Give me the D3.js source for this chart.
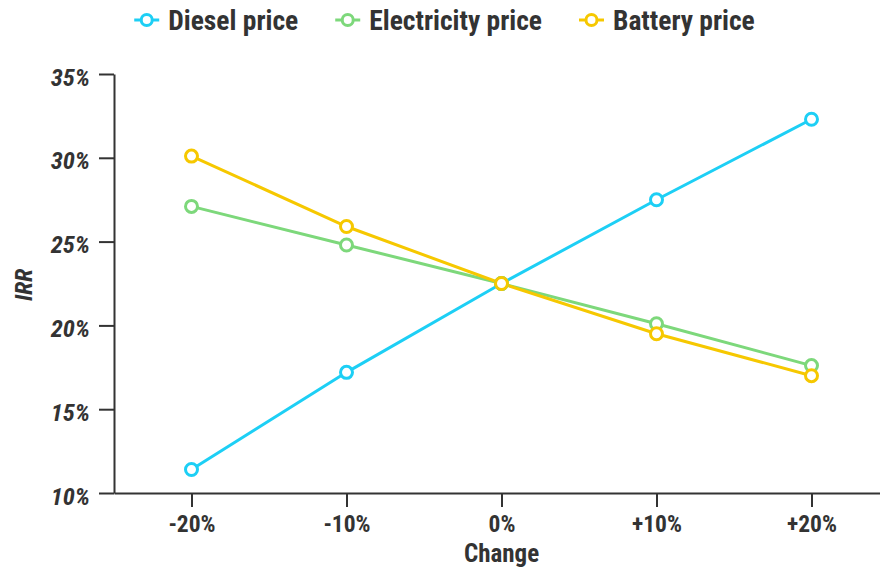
<!DOCTYPE html>
<html>
<head>
<meta charset="utf-8">
<script src="https://cdn.jsdelivr.net/npm/d3@7"></script>
<style>
  body { margin: 0; background: #fff; }
  text { font-family: "Roboto Condensed", "Liberation Sans Narrow", "Roboto", sans-serif; font-weight: 700; fill: #333; }
</style>
</head>
<body>
<div id="chart"></div>
<script>
// chart values
var changes = ["-20%", "-10%", "0%", "+10%", "+20%"];
var seriesNames = ["Diesel price", "Electricity price", "Battery price"];
var seriesColors = ["#1dcff5", "#7dd87b", "#f6c800"];
var diesel = [11.4, 17.2, 22.5, 27.5, 32.3];
var electricity = [27.1, 24.8, 22.5, 20.1, 17.6];
var battery = [30.1, 25.9, 22.5, 19.5, 17.0];
var yTicks = [10, 15, 20, 25, 30, 35];

var margin = {top: 74, right: -9, bottom: 75, left: 114};
var width = 880 - margin.left - margin.right,
    height = 568 - margin.top - margin.bottom;

var svg = d3.select("#chart")
  .append("svg")
  .attr("width", 880)
  .attr("height", 568);

var g = svg.append("g")
  .attr("transform", "translate(" + margin.left + "," + margin.top + ")");

var x = d3.scalePoint()
  .domain(changes)
  .range([0, width])
  .padding(0.5);

var y = d3.scaleLinear()
  .domain([10, 35])
  .range([height, 0]);

// axes
var xAxis = g.append("g")
  .attr("transform", "translate(0," + height + ")")
  .call(d3.axisBottom(x).tickSize(14).tickSizeOuter(0).tickPadding(8));

var yAxis = g.append("g")
  .call(d3.axisLeft(y).tickValues(yTicks).tickSize(15).tickSizeOuter(0).tickPadding(9)
    .tickFormat(function(d){ return d + "%"; }));

g.selectAll(".domain, .tick line").attr("stroke", "#333").attr("stroke-width", 2);
xAxis.selectAll(".tick text").style("font-size", "23.5px");
yAxis.selectAll(".tick text").style("font-size", "24.5px").style("font-style", "italic").attr("dy", "0.45em");

// axis titles
g.append("text")
  .attr("x", x("0%"))
  .attr("y", height + 69)
  .attr("text-anchor", "middle")
  .style("font-size", "25px")
  .text("Change");

g.append("text")
  .attr("transform", "translate(" + (-82) + "," + (height / 2 + 1.5) + ") rotate(-90)")
  .attr("text-anchor", "middle")
  .style("font-size", "24px")
  .style("font-style", "italic")
  .text("IRR");

// lines and points
var allSeries = [diesel, electricity, battery];
var line = d3.line()
  .x(function(d, i){ return x(changes[i]); })
  .y(function(d){ return y(d); });

allSeries.forEach(function(values, s){
  g.append("path")
    .datum(values)
    .attr("fill", "none")
    .attr("stroke", seriesColors[s])
    .attr("stroke-width", 3)
    .attr("d", line);
});

allSeries.forEach(function(values, s){
  g.selectAll(".pt" + s)
    .data(values)
    .enter().append("circle")
    .attr("class", "pt" + s)
    .attr("cx", function(d, i){ return x(changes[i]); })
    .attr("cy", function(d){ return y(d); })
    .attr("r", 6)
    .attr("fill", "#fff")
    .attr("stroke", seriesColors[s])
    .attr("stroke-width", 3);
});

// legend
var legend = svg.append("g");
var offset = 0;
seriesNames.forEach(function(name, s){
  var item = legend.append("g").attr("transform", "translate(" + offset + ",0)");
  item.append("line")
    .attr("x1", 0).attr("x2", 25)
    .attr("y1", 0).attr("y2", 0)
    .attr("stroke", seriesColors[s])
    .attr("stroke-width", 3);
  item.append("circle")
    .attr("cx", 12.5).attr("cy", 0).attr("r", 5.5)
    .attr("fill", "#fff")
    .attr("stroke", seriesColors[s])
    .attr("stroke-width", 3);
  var t = item.append("text")
    .attr("x", 34)
    .attr("dy", "0.35em")
    .style("font-size", "27.5px")
    .text(name);
  offset += 34 + t.node().getComputedTextLength() + 37;
});
offset -= 37;
legend.attr("transform", "translate(" + ((889 - offset) / 2) + ",20)");
</script>
</body>
</html>
